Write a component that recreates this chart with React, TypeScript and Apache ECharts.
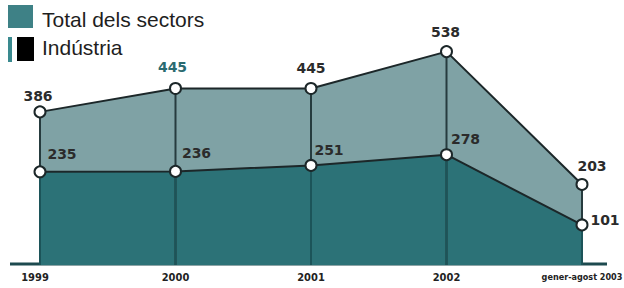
import React, { useEffect, useRef } from "react";
import * as echarts from "echarts";

const categories = ["1999", "2000", "2001", "2002", "gener-agost 2003"];
const totalValues = [386, 445, 445, 538, 203];
const industryValues = [235, 236, 251, 278, 101];
const totalLabelOffsets: [number, number][] = [[-2, -16], [-3, -21], [0, -20], [-1, -20], [10, -18]];
const industryLabelOffsets: [number, number][] = [[22, -18], [21, -18], [18, -15], [19, -16], [23, -5]];
const totalLabelColors = ["#2b2b2b", "#2a6a70", "#2b2b2b", "#2b2b2b", "#2b2b2b"];

const LIGHT = "#7fa2a5";
const DARK = "#2c7277";
const LINE = "#1c2729";

export default function App() {
  const ref = useRef<HTMLDivElement>(null);
  useEffect(() => {
    document.body.style.margin = "0";
    const chart = echarts.init(ref.current!, null, { renderer: "svg" });
    const labelBase = {
      show: true,
      position: "inside" as const,
      align: "center" as const,
      verticalAlign: "middle" as const,
      fontFamily: "DejaVu Sans",
      fontWeight: "bold" as const,
      fontSize: 14,
      color: "#2b2b2b",
    };
    const axisData = categories.map((c, i) =>
      i === categories.length - 1
        ? { value: c, textStyle: { fontSize: 9 } }
        : i === 0
        ? { value: c, textStyle: { padding: [0, 10, 0, 0] } }
        : c
    );
    chart.setOption({
      animation: false,
      grid: { left: 40, right: 42, top: 27, bottom: 23, outerBoundsMode: "none", containLabel: false },
      xAxis: {
        type: "category",
        data: axisData,
        boundaryGap: false,
        axisLine: { show: false },
        axisTick: { show: false },
        axisLabel: {
          margin: 7,
          fontFamily: "'DejaVu Sans Condensed', 'Liberation Sans Narrow', 'Roboto', sans-serif",
          fontWeight: "bold",
          fontSize: 11,
          color: "#222",
        },
      },
      yAxis: { type: "value", min: 0, max: 600, show: false },
      graphic: [
        { type: "line", shape: { x1: 10, y1: 264, x2: 607, y2: 264 }, style: { stroke: "#1d4a4f", lineWidth: 3 }, z: 0 },
        { type: "rect", shape: { x: 8, y: 5, width: 25, height: 23 }, style: { fill: "#3e8186" } },
        { type: "text", x: 42, y: 19, style: { text: "Total dels sectors", font: "21px 'Liberation Sans'", fill: "#1e1e1e", textVerticalAlign: "middle" } },
        { type: "rect", shape: { x: 8, y: 37, width: 4, height: 25 }, style: { fill: "#3a8a8f" } },
        { type: "rect", shape: { x: 17, y: 37, width: 17, height: 24 }, style: { fill: "#000" } },
        { type: "text", x: 42, y: 47, style: { text: "Indústria", font: "21px 'Liberation Sans'", fill: "#1e1e1e", textVerticalAlign: "middle" } },
      ],
      series: [
        { type: "line", data: totalValues, symbol: "none", lineStyle: { width: 0 }, areaStyle: { color: LIGHT, opacity: 1 }, z: 1 },
        { type: "line", data: industryValues, symbol: "none", lineStyle: { width: 0 }, areaStyle: { color: DARK, opacity: 1 }, z: 2 },
        { type: "bar", data: totalValues, barWidth: 2, itemStyle: { color: "#263b3e" }, z: 3 },
        { type: "bar", data: industryValues, barWidth: 2, barGap: "-100%", itemStyle: { color: "#1c5459" }, z: 4 },
        {
          type: "line",
          data: totalValues.map((v, i) => ({
            value: v,
            label: { ...labelBase, offset: totalLabelOffsets[i], color: totalLabelColors[i] },
          })),
          symbol: "circle",
          symbolSize: 11,
          itemStyle: { color: "#fff", borderColor: LINE, borderWidth: 2 },
          lineStyle: { color: LINE, width: 2 },
          label: labelBase,
          z: 5,
        },
        {
          type: "line",
          data: industryValues.map((v, i) => ({
            value: v,
            label: { ...labelBase, offset: industryLabelOffsets[i] },
          })),
          symbol: "circle",
          symbolSize: 11,
          itemStyle: { color: "#fff", borderColor: LINE, borderWidth: 2 },
          lineStyle: { color: LINE, width: 2 },
          label: labelBase,
          z: 6,
        },
      ],
    });
    return () => chart.dispose();
  }, []);
  return <div ref={ref} style={{ width: 624, height: 288 }} />;
}
